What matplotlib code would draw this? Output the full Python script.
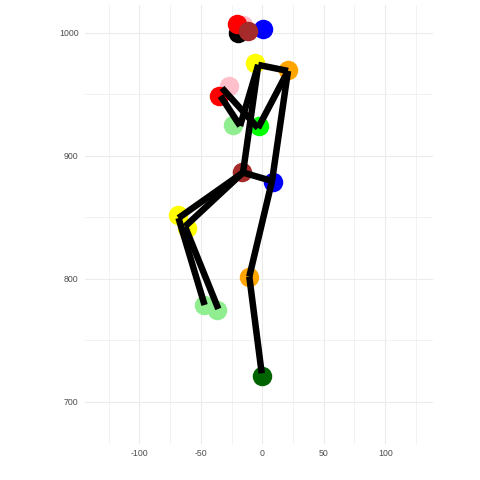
"""
Pose keypoints drawn as a stick figure (ggplot-minimal look).
"""

import numpy as np
import matplotlib
matplotlib.use("Agg")
import matplotlib.pyplot as plt
from matplotlib.ticker import MultipleLocator

plt.rcParams["font.family"] = ["Liberation Sans", "DejaVu Sans"]
plt.rcParams["axes.unicode_minus"] = False

# keypoints: x, y, colour (drawn in this order)
kp_x = [-20.0, -15.5, -20.8, 0.8, -11.4,
        -5.9, 21.2, -27.0, -34.9, -23.6, -2.5,
        -16.8, 9.0, -69.0, -61.5, -10.8, -47.4, -37.1, -0.5]
kp_y = [999.8, 1006.3, 1006.8, 1002.8, 1001.6,
        975.1, 969.7, 956.5, 948.7, 925.0, 924.0,
        887.0, 878.9, 851.4, 841.0, 801.6, 778.6, 774.5, 720.9]
kp_col = ["black", "pink", "red", "blue", "brown",
          "yellow", "orange", "pink", "red", "lightgreen", "lime",
          "brown", "blue", "yellow", "yellow", "orange", "lightgreen", "lightgreen", "darkgreen"]

# skeleton segments
seg_x0 = [-3.3, -3.3, -18.1, 20.9, -3.5, -3.3, 20.9, -15.7, -15.7, -68.2, -15.7, -62.9, 7.9, -10.6]
seg_y0 = [973.8, 973.8, 924.2, 968.9, 922.5, 973.8, 968.9, 886.3, 886.3, 849.3, 886.3, 842.4, 879.4, 801.6]
seg_x1 = [20.9, -18.1, -34.0, -3.5, -32.8, -15.7, 7.9, 7.9, -68.2, -47.0, -62.9, -35.8, -10.6, -0.5]
seg_y1 = [968.9, 924.2, 948.5, 922.5, 955.0, 886.3, 879.4, 879.4, 849.3, 778.6, 842.4, 775.4, 801.6, 723.1]

x_lim = (-144.3, 138.9)
y_lim = (666.0, 1022.5)

fig = plt.figure(figsize=(480 / 72, 480 / 72), dpi=72)
ax = fig.add_axes([85 / 480, 36.5 / 480, 348 / 480, 438.5 / 480])

for x, y, c in zip(kp_x, kp_y, kp_col):
    ax.plot(x, y, "o", ms=19.5, color=c, mec="none", zorder=2)

for a, b, c, d in zip(seg_x0, seg_y0, seg_x1, seg_y1):
    ax.plot([a, c], [b, d], color="black", lw=6.5, solid_capstyle="butt", zorder=3)

ax.set_xlim(*x_lim)
ax.set_ylim(*y_lim)
ax.xaxis.set_major_locator(MultipleLocator(50))
ax.xaxis.set_minor_locator(MultipleLocator(25))
ax.yaxis.set_major_locator(MultipleLocator(100))
ax.yaxis.set_minor_locator(MultipleLocator(50))
ax.grid(which="major", color="#EBEBEB", lw=1.07, zorder=0)
ax.grid(which="minor", color="#EBEBEB", lw=0.6, zorder=0)
ax.set_axisbelow(True)
for s in ax.spines.values():
    s.set_visible(False)
ax.tick_params(which="both", length=0, labelsize=8.8, labelcolor="#4D4D4D")
ax.tick_params(axis="x", pad=5)
ax.tick_params(axis="y", pad=6.5)

fig.savefig("out.png", dpi=72)
